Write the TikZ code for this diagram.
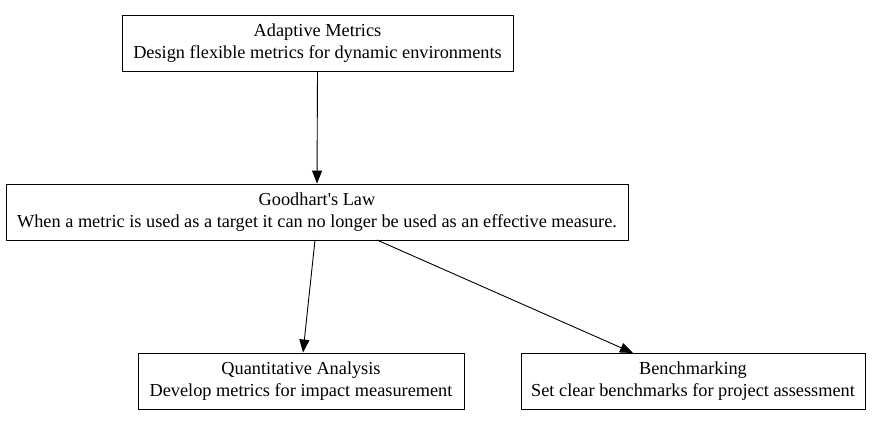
\documentclass[tikz,border=0pt]{standalone}
\usepackage{fontspec}
\newfontfamily\gvfont{Liberation Serif}
\usetikzlibrary{arrows.meta}
\begin{document}
\begin{tikzpicture}[x=1pt,y=-1pt,
  box/.style={draw,line width=0.9pt,inner sep=0pt,align=center,font=\gvfont\fontsize{18.3}{21.5}\selectfont},
  edge/.style={line width=0.9pt,-{Triangle[length=13pt,width=10pt]}}]
\useasboundingbox (0,0) rectangle (882,425);
\node[box,minimum width=391,minimum height=56] (am) at (317.5,43) {Adaptive Metrics\\Design flexible metrics for dynamic environments};
\node[box,minimum width=622,minimum height=56] (gl) at (317,212) {Goodhart's Law\\When a metric is used as a target it can no longer be used as an effective measure.};
\node[box,minimum width=326,minimum height=56] (qa) at (301,381) {Quantitative Analysis\\Develop metrics for impact measurement};
\node[box,minimum width=344,minimum height=56] (bm) at (693,381) {Benchmarking\\Set clear benchmarks for project assessment};
\coordinate (g1) at (315,240);
\coordinate (g2) at (377,240);
\draw[edge] (am.south) -- (gl.north);
\draw[edge] (g1) -- (qa.north -| 303,0);
\draw[edge] (g2) -- (633,353);
\end{tikzpicture}
\end{document}
